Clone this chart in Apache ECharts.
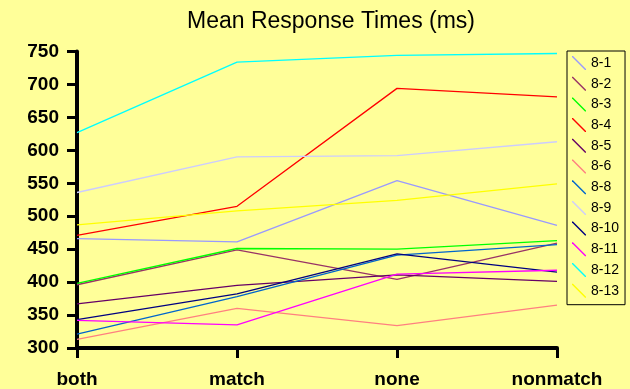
<!DOCTYPE html>
<html>
<head>
<meta charset="utf-8">
<script src="https://cdn.jsdelivr.net/npm/echarts@6/dist/echarts.min.js"></script>
<style>
  html, body { margin: 0; padding: 0; background: #FFFF99; }
  #chart { width: 630px; height: 389px; }
</style>
</head>
<body>
<div id="chart"></div>
<script>
// Conditions on the x axis
const categories = ['both', 'match', 'none', 'nonmatch'];

// Mean response time (ms) per subject, one array per condition order above
const s8_1  = [466, 461, 554, 486];
const s8_2  = [396, 449, 404, 459];
const s8_3  = [398, 451, 450, 463];
const s8_4  = [471, 515, 694, 681];
const s8_5  = [367, 395, 411, 401];
const s8_6  = [313, 360, 334, 365];
const s8_8  = [321, 378, 441, 457];
const s8_9  = [536, 590, 592, 613];
const s8_10 = [343, 382, 443, 415];
const s8_11 = [342, 335, 412, 418];
const s8_12 = [627, 734, 744, 747];
const s8_13 = [487, 508, 524, 549];

const seriesNames = ['8-1', '8-2', '8-3', '8-4', '8-5', '8-6', '8-8', '8-9', '8-10', '8-11', '8-12', '8-13'];
const seriesValues = [s8_1, s8_2, s8_3, s8_4, s8_5, s8_6, s8_8, s8_9, s8_10, s8_11, s8_12, s8_13];
const seriesColors = ['#9999FF', '#993366', '#00FF00', '#FF0000', '#660066', '#FF8080',
                      '#0066CC', '#CCCCFF', '#000080', '#FF00FF', '#00FFFF', '#FFFF00'];

// y axis range and step
const yMin = 300, yMax = 750, yStep = 50;

const chart = echarts.init(document.getElementById('chart'));

const series = seriesNames.map((name, i) => ({
  name: name,
  type: 'line',
  data: seriesValues[i],
  showSymbol: false,
  symbol: 'none',
  color: seriesColors[i],
  lineStyle: { width: 1.3, color: seriesColors[i] },
  itemStyle: { color: seriesColors[i] },
  emphasis: { disabled: true },
  animation: false
}));

chart.setOption({
  backgroundColor: '#FFFF99',
  animation: false,
  title: {
    text: 'Mean Response Times (ms)',
    left: 326,
    textAlign: 'center',
    top: 5,
    textStyle: {
      fontFamily: 'Liberation Sans, Arial, sans-serif',
      fontSize: 23,
      fontWeight: 'normal',
      color: '#000'
    }
  },
  legend: {
    orient: 'vertical',
    left: 567,
    top: 51,
    padding: [5, 6, 7, 5],
    borderColor: '#000',
    borderWidth: 1,
    itemWidth: 14,
    itemHeight: 14,
    itemGap: 6.7,
    icon: 'path://M0,0L1,0L14,13L14,14L13,14L0,1Z',
    itemStyle: { borderWidth: 0 },
    textStyle: {
      fontFamily: 'Liberation Sans, Arial, sans-serif',
      fontSize: 14,
      color: '#000',
      padding: [0, 0, 0, 0]
    },
    data: seriesNames
  },
  grid: {
    left: 77,
    right: 73,
    top: 51.5,
    bottom: 39.7,
    containLabel: false
  },
  xAxis: {
    type: 'category',
    data: categories,
    boundaryGap: false,
    axisLine: { lineStyle: { color: '#000', width: 4 } },
    axisTick: { show: true, length: 10, alignWithLabel: true, lineStyle: { color: '#000', width: 3 } },
    axisLabel: {
      margin: 22,
      fontFamily: 'Liberation Sans, Arial, sans-serif',
      fontSize: 19,
      fontWeight: 'bold',
      color: '#000'
    },
    splitLine: { show: false }
  },
  yAxis: {
    type: 'value',
    min: yMin,
    max: yMax,
    interval: yStep,
    axisLine: { show: true, lineStyle: { color: '#000', width: 4 } },
    axisTick: { show: true, length: 10, lineStyle: { color: '#000', width: 3 } },
    axisLabel: {
      margin: 18,
      fontFamily: 'Liberation Sans, Arial, sans-serif',
      fontSize: 19,
      fontWeight: 'bold',
      color: '#000'
    },
    splitLine: { show: false }
  },
  series: series
});
</script>
</body>
</html>
